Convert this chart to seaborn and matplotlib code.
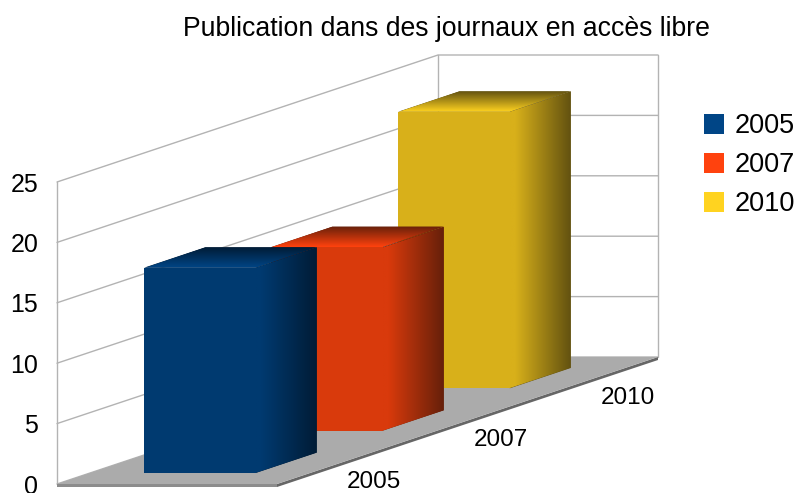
import numpy as np
import pandas as pd
import matplotlib
matplotlib.use('Agg')
import matplotlib.pyplot as plt
import seaborn as sns
from matplotlib.colors import to_rgb
from matplotlib.patches import Patch, Polygon
from matplotlib.transforms import Affine2D

# Data
years = ['2005', '2007', '2010']
publications = [17, 15.2, 22.9]
y_ticks = [0, 5, 10, 15, 20, 25]
title = 'Publication dans des journaux en accès libre'

# Colors
legend_colors = ['#004586', '#ff420e', '#ffd320']
front_colors = ['#003a70', '#d93a0c', '#d8b01a']
dark_colors = ['#001c36', '#66200a', '#635210']

# Oblique projection: depth goes from 0 to 1, floor width is 1
DEPTH_X = 381 / 220
DEPTH_Y = 127 / 12.08
BAR_WIDTH = 111.5 / 220


def project(x, y, z):
    return x + DEPTH_X * z, y + DEPTH_Y * z


def shaded_face(ax, p00, p10, p01, colors, stops, axis, zorder):
    # gradient image mapped on the parallelogram p00, p10, p01
    t = np.linspace(0, 1, 64)
    rgb = np.array([to_rgb(c) for c in colors])
    grad = np.stack([np.interp(t, stops, rgb[:, k]) for k in range(3)] + [np.ones(64)], axis=1)
    img = grad[np.newaxis, :, :] if axis == 0 else grad[:, np.newaxis, :]
    aff = Affine2D.from_values(p10[0] - p00[0], p10[1] - p00[1],
                               p01[0] - p00[0], p01[1] - p00[1], p00[0], p00[1])
    p11 = (p10[0] + p01[0] - p00[0], p10[1] + p01[1] - p00[1])
    corners = [p00, p10, p11, p01]
    # solid face below the image, so its soft border does not show the wall
    ax.add_patch(Polygon(corners, closed=True, facecolor=colors[-1], edgecolor='none',
                         zorder=zorder, clip_on=False))
    im = ax.imshow(img, extent=[0, 1, 0, 1], origin='lower', aspect='auto', interpolation='bilinear',
                   transform=aff + ax.transData, zorder=zorder)
    im.set_clip_path(Polygon(corners, closed=True, transform=ax.transData))
    im.set_clip_box(fig.bbox)


sns.set_theme(style='white')
plt.rcParams['font.family'] = ['Liberation Sans', 'DejaVu Sans']

fig = plt.figure(figsize=(7.96, 4.93), dpi=100)
ax = fig.add_axes([57 / 796, (493 - 484) / 493, 220 / 796, 302 / 493])

df = pd.DataFrame({'cat': [''] * 3, 'year': years, 'value': publications})
sns.barplot(data=df, x='cat', y='value', hue='year', hue_order=years, dodge=False,
            palette=front_colors, saturation=1, width=BAR_WIDTH, linewidth=0,
            legend=False, ax=ax, errorbar=None)

# Move the front faces to their depth and add top and side faces
for i, patch in enumerate(list(ax.patches)):
    z0 = (i + 0.26) / 3
    z1 = (i + 0.74) / 3
    h = publications[i]
    left = -BAR_WIDTH / 2
    right = BAR_WIDTH / 2
    fx, fy = project(left, 0, z0)
    patch.set_x(fx)
    patch.set_y(fy)
    patch.set_clip_on(False)
    patch.set_zorder(21 - 3 * i)

    # side face
    shaded_face(ax, project(right, 0, z0), project(right, 0, z1), project(right, h, z0),
                [front_colors[i], front_colors[i], dark_colors[i]], [0, 0.08, 1], 0, 20 - 3 * i)
    # top face, bright at the front edge
    shaded_face(ax, project(left, h, z0), project(right, h, z0), project(left, h, z1),
                [legend_colors[i], dark_colors[i]], [0, 1], 1, 20 - 3 * i)

# Walls
wall_color = '#b3b3b3'
for v in y_ticks:
    xs, ys = zip(project(-0.5, v, 0), project(-0.5, v, 1), project(0.5, v, 1))
    ax.plot(xs, ys, color=wall_color, lw=1.0, zorder=1, clip_on=False)
for x_wall, z_wall in [(-0.5, 0), (-0.5, 1), (0.5, 1)]:
    xs, ys = zip(project(x_wall, 0, z_wall), project(x_wall, 25, z_wall))
    ax.plot(xs, ys, color=wall_color, lw=1.0, zorder=1, clip_on=False)

# Floor with a small thickness
thick = 0.25
ax.add_patch(Polygon([project(-0.5, 0, 0), project(0.5, 0, 0), project(0.5, -thick, 0),
                      project(-0.5, -thick, 0)], closed=True, facecolor='#8c8c8c',
                     edgecolor='none', zorder=2, clip_on=False))
ax.add_patch(Polygon([project(0.5, 0, 0), project(0.5, 0, 1), project(0.5, -thick, 1),
                      project(0.5, -thick, 0)], closed=True, facecolor='#666666',
                     edgecolor='none', zorder=2, clip_on=False))
ax.add_patch(Polygon([project(-0.5, 0, 0), project(0.5, 0, 0), project(0.5, 0, 1),
                      project(-0.5, 0, 1)], closed=True, facecolor='#ababab',
                     edgecolor='none', zorder=3, clip_on=False))

ax.set_xlim(-0.5, 0.5)
ax.set_ylim(0, 25)
ax.set_xlabel('')
ax.set_ylabel('')
ax.set_xticks([])
ax.set_yticks(y_ticks)
ax.tick_params(axis='y', length=0, pad=13.5, labelsize=18, colors='black')
sns.despine(ax=ax, left=True, bottom=True)
ax.patch.set_visible(False)

# Category labels along the right edge of the floor
for i, year in enumerate(years):
    ax.annotate(year, xy=project(0.5, 0, (i + 0.5) / 3), xytext=(24, -14),
                textcoords='offset points', ha='center', va='center',
                fontsize=17.5, color='black', annotation_clip=False)

fig.text(446.5 / 796, 1 - 29 / 493, title, ha='center', va='center', fontsize=19.2, color='black')

handles = [Patch(facecolor=c, edgecolor='none', label=y) for c, y in zip(legend_colors, years)]
fig.legend(handles=handles, loc='upper left', bbox_to_anchor=(699 / 796, 1 - 108 / 493),
           frameon=False, fontsize=19.5, handlelength=0.74, handleheight=0.74,
           handletextpad=0.38, labelspacing=0.48, borderpad=0.2, borderaxespad=0,
           labelcolor='black')

fig.savefig('out.png', dpi=100)
